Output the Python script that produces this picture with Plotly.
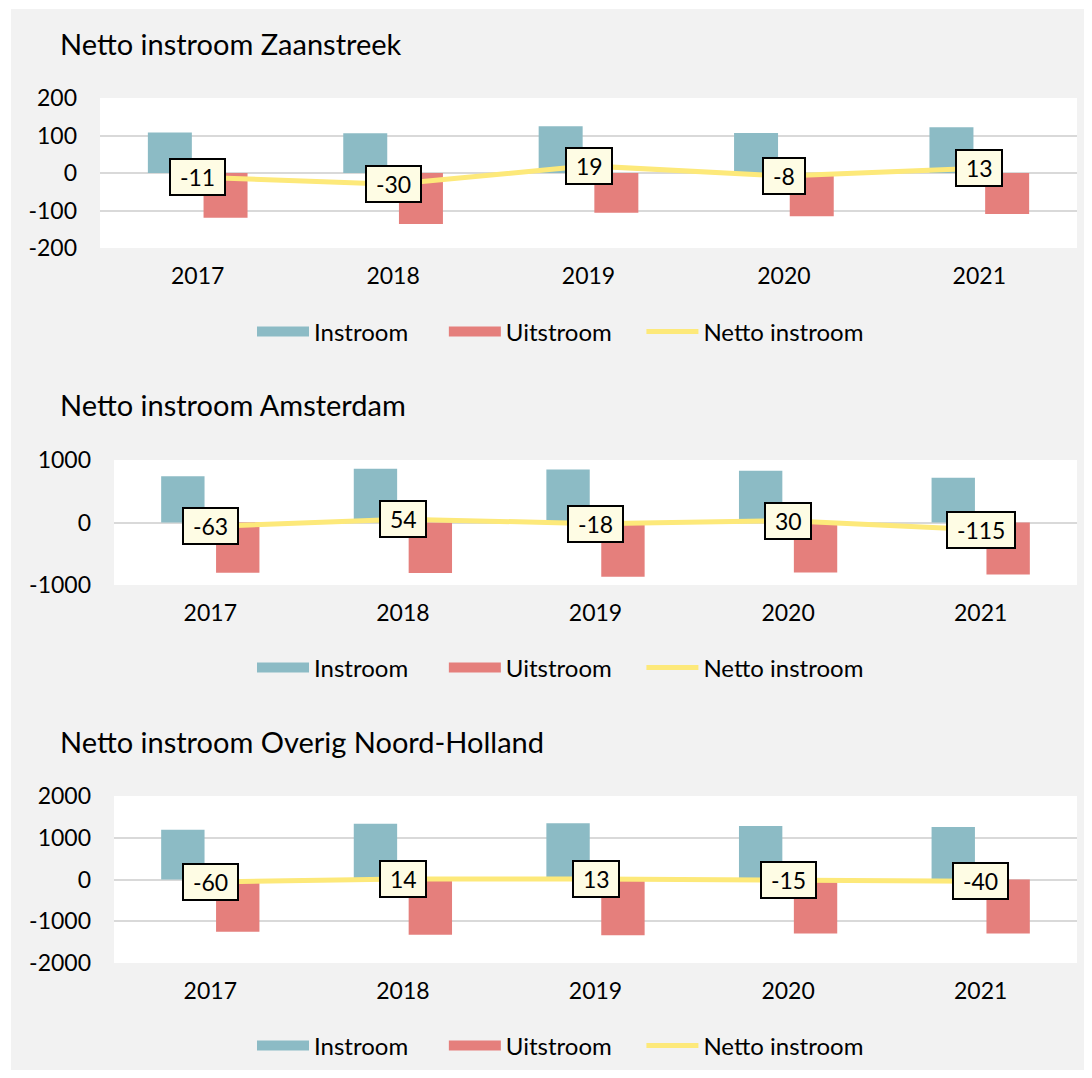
import plotly.graph_objects as go

years = ["2017", "2018", "2019", "2020", "2021"]

titles = ["Netto instroom Zaanstreek", "Netto instroom Amsterdam", "Netto instroom Overig Noord-Holland"]
series_names = ["Instroom", "Uitstroom", "Netto instroom"]

zaan_in = [108, 106, 125, 107, 122]
zaan_uit = [-119, -136, -106, -115, -109]
zaan_net = [-11, -30, 19, -8, 13]

ams_in = [740, 860, 850, 830, 715]
ams_uit = [-803, -806, -868, -800, -830]
ams_net = [-63, 54, -18, 30, -115]

nh_in = [1190, 1335, 1350, 1280, 1255]
nh_uit = [-1250, -1321, -1337, -1295, -1295]
nh_net = [-60, 14, 13, -15, -40]

y_ranges = [[-200, 200], [-1000, 1000], [-2000, 2000]]
y_tickvals = [[-200, -100, 0, 100, 200], [-1000, 0, 1000], [-2000, -1000, 0, 1000, 2000]]
y_ticktext = [[str(v) for v in tv] for tv in y_tickvals]

# page body has an 8px margin: figure sized to fit the 1092x1078 window
OFF = 8
W, H = 1092 - OFF, 1078 - 2 * OFF
FONT = "Lato"
C_IN = "#8CBBC5"
C_UIT = "#E57F7C"
C_NET = "#FDE97A"
NB = "\u00a0"


def px(x):
    return (x - OFF) / W


def py(y):
    return 1 - (y - OFF) / H


panels = [(zaan_in, zaan_uit, zaan_net), (ams_in, ams_uit, ams_net), (nh_in, nh_uit, nh_net)]

# pixel layout of plot areas in window coordinates (left, right, top, bottom)
areas = [(100, 1077, 98, 248), (114, 1077, 460, 585), (114, 1077, 796, 963)]
title_y = [43, 404, 741]
legend_y = [332, 668, 1046]

# legend entries: (label, colour, swatch line width, trailing spacing)
legend_items = [(series_names[0], C_IN, 14, NB * 5),
                (series_names[1], C_UIT, 14, NB * 4),
                (series_names[2], C_NET, 5, "")]

fig = go.Figure()
annotations = []
layout = {}
for i, ((vin, vuit, vnet), (l, r, t, b)) in enumerate(zip(panels, areas)):
    n = i + 1
    xa = "x" if n == 1 else f"x{n}"
    ya = "y" if n == 1 else f"y{n}"
    lg = "legend" if n == 1 else f"legend{n}"
    fig.add_trace(go.Bar(x=years, y=vin, name=series_names[0], marker_color=C_IN,
                         marker_line_width=0, xaxis=xa, yaxis=ya, showlegend=False))
    fig.add_trace(go.Bar(x=years, y=vuit, name=series_names[1], marker_color=C_UIT,
                         marker_line_width=0, xaxis=xa, yaxis=ya, showlegend=False))
    fig.add_trace(go.Scatter(x=years, y=vnet, name=series_names[2], mode="lines",
                             line=dict(color=C_NET, width=5), xaxis=xa, yaxis=ya,
                             showlegend=False))
    # legend entries (wide swatches like the original)
    for name, col, w, pad in legend_items:
        fig.add_trace(go.Scatter(x=[None], y=[None], mode="lines", name=name + pad,
                                 line=dict(color=col, width=w), xaxis=xa, yaxis=ya,
                                 legend=lg, showlegend=True))
    for k, v in enumerate(vnet):
        # category axis: position by category index
        annotations.append(dict(x=k, y=v, xref=xa, yref=ya, text=NB + str(v) + NB,
                                showarrow=False,
                                font=dict(family=FONT, size=23, color="#000000"),
                                bgcolor="#FEFCE4", bordercolor="#000000", borderwidth=2,
                                borderpad=3, xanchor="center", yanchor="middle"))
    annotations.append(dict(x=px(57.5), y=py(title_y[i]), xref="paper", yref="paper",
                            text=titles[i], showarrow=False, xanchor="left", yanchor="middle",
                            font=dict(family=FONT, size=29, color="#000000")))
    kx = "xaxis" if n == 1 else f"xaxis{n}"
    ky = "yaxis" if n == 1 else f"yaxis{n}"
    layout[kx] = dict(domain=[px(l), px(r)], anchor=ya, type="category", showgrid=False,
                      showline=False, zeroline=False, ticks="", ticklabelstandoff=12,
                      automargin=False,
                      tickfont=dict(family=FONT, size=23, color="#000000"),
                      range=[-0.5, 4.5], fixedrange=True)
    layout[ky] = dict(domain=[py(b), py(t)], anchor=xa, range=y_ranges[i],
                      tickmode="array", tickvals=y_tickvals[i], ticktext=y_ticktext[i],
                      showgrid=True, gridcolor="#D9D9D9", automargin=False,
                      gridwidth=1.5, zeroline=False, showline=False, ticks="",
                      ticklabelstandoff=22, fixedrange=True,
                      tickfont=dict(family=FONT, size=23, color="#000000"))
    layout[lg] = dict(orientation="h", x=px(252), xanchor="left", y=py(legend_y[i]),
                      yanchor="middle", bgcolor="rgba(0,0,0,0)", itemwidth=52,
                      font=dict(family=FONT, size=24, color="#000000"))

shapes = [
    dict(type="rect", xref="paper", yref="paper", x0=0, x1=px(11), y0=0, y1=1,
         fillcolor="#FFFFFF", line_width=0, layer="below"),
    dict(type="rect", xref="paper", yref="paper", x0=0, x1=1, y0=py(9), y1=1,
         fillcolor="#FFFFFF", line_width=0, layer="below"),
]

fig.update_layout(width=W, height=H,
                  margin=dict(l=0, r=0, t=0, b=0, pad=0, autoexpand=False),
                  paper_bgcolor="#F2F2F2", plot_bgcolor="#FFFFFF",
                  barmode="group", bargap=0.43, bargroupgap=0.21,
                  annotations=annotations, shapes=shapes,
                  font=dict(family=FONT, color="#000000"), **layout)

fig.write_html("out.html")
